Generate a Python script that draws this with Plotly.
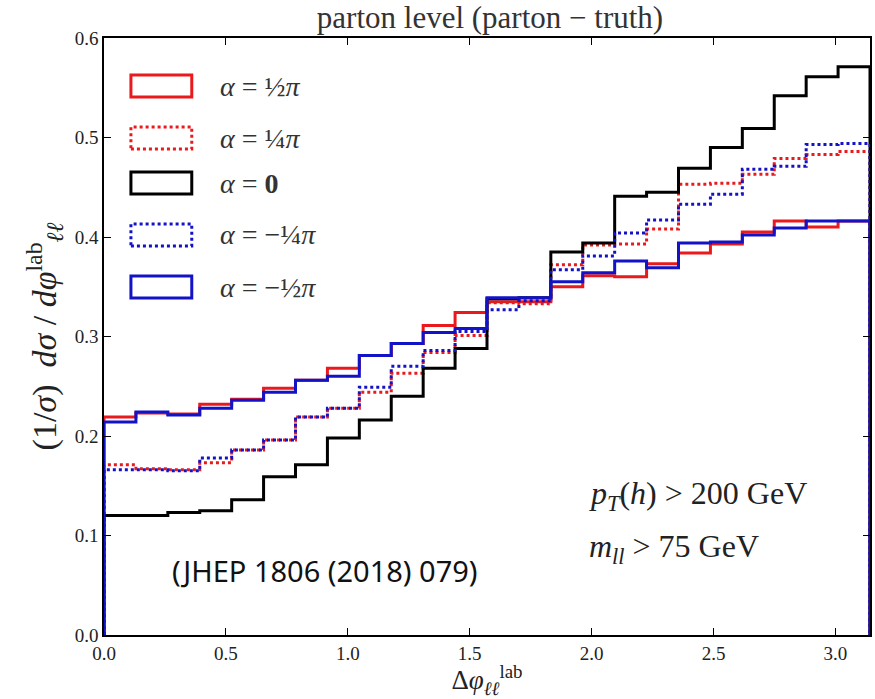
import numpy as np
import plotly.graph_objects as go

# ---- data (24 bins on [0, pi]) ----
n_bins = 24
alpha_half_pi = [0.219, 0.223, 0.222, 0.232, 0.237, 0.248, 0.256, 0.268, 0.281, 0.293, 0.311, 0.324,
                 0.335, 0.335, 0.350, 0.361, 0.360, 0.373, 0.384, 0.393, 0.405, 0.416, 0.410, 0.416]
alpha_quarter_pi = [0.171, 0.167, 0.166, 0.173, 0.186, 0.196, 0.219, 0.228, 0.244, 0.263, 0.284, 0.301,
                    0.334, 0.333, 0.372, 0.392, 0.393, 0.408, 0.453, 0.454, 0.463, 0.479, 0.483, 0.486]
alpha_zero = [0.120, 0.120, 0.123, 0.125, 0.136, 0.159, 0.171, 0.198, 0.216, 0.240, 0.268, 0.288,
              0.338, 0.339, 0.385, 0.394, 0.441, 0.445, 0.469, 0.490, 0.509, 0.542, 0.561, 0.571]
alpha_mquarter_pi = [0.166, 0.166, 0.165, 0.178, 0.186, 0.196, 0.219, 0.228, 0.249, 0.270, 0.286, 0.305,
                     0.327, 0.336, 0.367, 0.381, 0.404, 0.417, 0.433, 0.443, 0.468, 0.471, 0.493, 0.494]
alpha_mhalf_pi = [0.214, 0.224, 0.221, 0.228, 0.236, 0.244, 0.256, 0.260, 0.281, 0.293, 0.304, 0.308,
                  0.339, 0.339, 0.355, 0.364, 0.376, 0.369, 0.394, 0.395, 0.402, 0.409, 0.416, 0.416]

labels = ["<i>α</i> = ½<i>π</i>", "<i>α</i> = ¼<i>π</i>", "<i>α</i> = <b>0</b>",
          "<i>α</i> = −¼<i>π</i>", "<i>α</i> = −½<i>π</i>"]
x_ticks = [0.0, 0.5, 1.0, 1.5, 2.0, 2.5, 3.0]
y_ticks = [0.0, 0.1, 0.2, 0.3, 0.4, 0.5, 0.6]

edges = np.linspace(0, np.pi, n_bins + 1)

RED = "#ea1a1c"
BLUE = "#1212c6"
BLACK = "#000000"

series = [
    (alpha_half_pi, RED, "solid"),
    (alpha_quarter_pi, RED, "dot"),
    (alpha_zero, BLACK, "solid"),
    (alpha_mquarter_pi, BLUE, "dot"),
    (alpha_mhalf_pi, BLUE, "solid"),
]


def step_xy(vals):
    xs = [edges[0]] + list(edges[:-1]) + [edges[-1], edges[-1]]
    ys = [0.0] + list(vals) + [vals[-1], 0.0]
    return xs, ys


fig = go.Figure()
for (vals, col, dash), lab in zip(series, labels):
    xs, ys = step_xy(vals)
    fig.add_trace(go.Scatter(x=xs, y=ys, mode="lines", line_shape="hv",
                             line=dict(color=col, width=3, dash=dash),
                             name=lab, showlegend=False))

SERIF = "Liberation Serif, DejaVu Serif, serif"

axis_common = dict(showline=True, linecolor="black", linewidth=1.5, mirror="ticks",
                   ticks="inside", ticklen=7, tickwidth=1, tickcolor="black",
                   showgrid=False, zeroline=False,
                   tickfont=dict(family=SERIF, size=19, color="#222"))

fig.update_xaxes(range=[0, np.pi], tickvals=x_ticks, tickformat=".1f", **axis_common,
                 title=dict(text="Δ<i>φ</i><sub><i>ℓℓ</i></sub><sup>lab</sup>",
                            font=dict(family=SERIF, size=27, color="#222"), standoff=6))
fig.update_yaxes(range=[0, 0.6], tickvals=y_ticks, tickformat=".1f", **axis_common,
                 title=dict(text="(1/<i>σ</i>)  <i>dσ</i> / <i>dφ</i><sup>lab</sup><sub><i>ℓℓ</i></sub>",
                            font=dict(family=SERIF, size=34, color="#222"), standoff=8))

# manual legend (matplotlib-style patch boxes)
box_x0, box_x1 = 131, 192
box_tops = [75, 127, 172, 224, 276]
box_h = 22
W, H = 875, 699
PX0, PX1, PY0, PY1 = 104, 872, 38, 635
shapes = []
annotations = []
for (vals, col, dash), lab, top in zip(series, labels, box_tops):
    shapes.append(dict(type="rect", xref="paper", yref="paper",
                       x0=(box_x0 - PX0) / (PX1 - PX0), x1=(box_x1 - PX0) / (PX1 - PX0),
                       y0=(PY1 - top - box_h) / (PY1 - PY0), y1=(PY1 - top) / (PY1 - PY0),
                       line=dict(color=col, width=3, dash=dash), fillcolor="rgba(0,0,0,0)"))
    annotations.append(dict(xref="paper", yref="paper",
                            x=(218 - PX0) / (PX1 - PX0), y=(PY1 - top - box_h / 2) / (PY1 - PY0),
                            xanchor="left", yanchor="middle", showarrow=False, text=lab,
                            font=dict(family=SERIF, size=28, color="#333")))

annotations += [
    dict(xref="paper", yref="paper", x=(588 - PX0) / (PX1 - PX0), y=(PY1 - 495) / (PY1 - PY0),
         xanchor="left", yanchor="middle", showarrow=False,
         text="<i>p<sub>T</sub></i>(<i>h</i>) > 200 GeV",
         font=dict(family=SERIF, size=32, color="#222")),
    dict(xref="paper", yref="paper", x=(588 - PX0) / (PX1 - PX0), y=(PY1 - 548) / (PY1 - PY0),
         xanchor="left", yanchor="middle", showarrow=False,
         text="<i>m<sub>ll</sub></i> > 75 GeV",
         font=dict(family=SERIF, size=32, color="#222")),
    dict(xref="paper", yref="paper", x=(170 - PX0) / (PX1 - PX0), y=(PY1 - 570) / (PY1 - PY0),
         xanchor="left", yanchor="middle", showarrow=False,
         text="(JHEP 1806 (2018) 079)",
         font=dict(family="Noto Sans, Open Sans, sans-serif", size=29, color="#111")),
]

fig.update_layout(
    width=W, height=H,
    margin=dict(l=PX0, r=W - PX1, t=PY0, b=H - PY1),
    plot_bgcolor="white", paper_bgcolor="white",
    title=dict(text="parton level (parton − truth)", x=490 / W, xanchor="center",
               y=1 - 17 / H, yanchor="middle",
               font=dict(family=SERIF, size=31, color="#333")),
    shapes=shapes, annotations=annotations, showlegend=False,
)

fig.write_html("out.html")
